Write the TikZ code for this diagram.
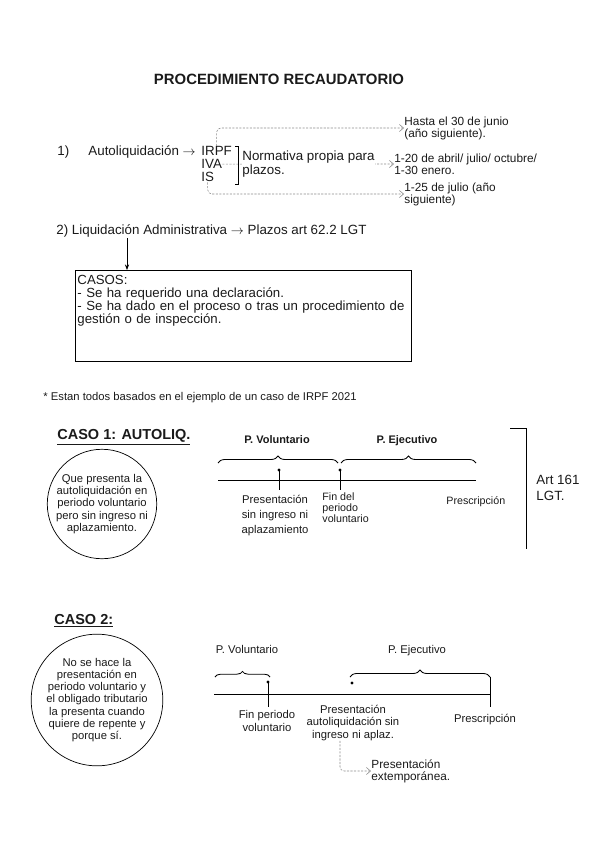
\documentclass[tikz,border=0pt]{standalone}
\usepackage{fontspec}
\setmainfont{Liberation Sans}
\usepackage{tikz}
\usetikzlibrary{positioning, arrows.meta, decorations.pathreplacing, backgrounds}
\definecolor{gristrazo}{HTML}{8A8A8A}
\definecolor{gristexto}{HTML}{1A1A1A}

\begin{document}
\begin{tikzpicture}[
    x=0.025cm, y=-0.025cm,
    line width=0.6pt,
    every node/.style={font=\fontsize{9.5}{9.2}\selectfont, inner sep=0pt, text=gristexto},
    titulo/.style={font=\fontsize{10.6}{12}\selectfont\bfseries},
    caso/.style={font=\fontsize{10.3}{12}\selectfont\bfseries},
    nota/.style={font=\fontsize{8.4}{8.6}\selectfont, align=left},
    chico/.style={font=\fontsize{8}{10.5}\selectfont},
    periodo/.style={font=\fontsize{7.8}{9}\selectfont\bfseries, anchor=base},
    burbuja/.style={draw, circle, align=center, line width=0.5pt,
        font=\fontsize{8}{8.7}\selectfont},
    llave/.style={decorate, decoration={brace, amplitude=5pt}},
    punteada/.style={color=gristrazo, dash pattern=on 1.5pt off 1pt, line width=0.4pt,
        rounded corners=3pt, -{Straight Barb[length=3pt, width=5pt]}},
    flecha/.style={-{Stealth[length=4pt, width=3pt]}, line width=0.5pt}
]
\useasboundingbox (0,0) rectangle (600,848);

% titulo
\node[titulo] (titulo) at (279,79) {PROCEDIMIENTO RECAUDATORIO};

% 1) autoliquidacion
\node[anchor=west] (uno) at (57,152) {1)};
\node[anchor=west] (auto) at (88,152) {Autoliquidación $\rightarrow$};
\node[base right=0.12cm of auto] (irpf) {IRPF};
\node[anchor=base west] (iva) at ([yshift=-0.33cm]irpf.base west) {IVA};
\node[anchor=base west] (is) at ([yshift=-0.33cm]iva.base west) {IS};
\draw[line width=0.5pt] (235,146) -- (238,146) -- (238,184) -- (235,184);
\node[anchor=north west, align=left, fill=white, inner ysep=1pt,
    font=\fontsize{9.5}{9.8}\selectfont] (normativa) at (242,149) {Normativa propia para\\plazos.};
\node[nota, anchor=west] (hasta) at (404,128) {Hasta el 30 de junio\\(año siguiente).};
\node[nota, anchor=west] (abril) at (394,164) {1-20 de abril/ julio/ octubre/\\1-30 enero.};
\node[nota, anchor=west] (julio) at (404,194) {1-25 de julio (año\\siguiente)};
\draw[punteada] (irpf.north) |- (hasta.west);
\draw[punteada] (is.south) |- (julio.west);
\begin{scope}[on background layer]
\draw[punteada, rounded corners=0pt] (iva.east) -- (abril.west);
\end{scope}

% 2) liquidacion administrativa
\node[anchor=west] (dos) at (56,231) {2) Liquidación Administrativa $\rightarrow$ Plazos art 62.2 LGT};
\node[draw, anchor=north west, align=left, text width=8.3cm, inner xsep=0.05cm,
    inner ysep=3.5pt, text depth=1.8cm, line width=0.7pt,
    font=\fontsize{9.4}{9.2}\selectfont] (casos) at (75,270)
    {CASOS:\\- Se ha requerido una declaración.\\- Se ha dado en el proceso o tras un procedimiento de\\gestión o de inspección.};
\coordinate (bajada) at (127,238);
\draw[flecha] (bajada) -- (bajada |- casos.north);

\node[font=\fontsize{8}{9}\selectfont, anchor=west] (aviso) at (43,398) {* Estan todos basados en el ejemplo de un caso de IRPF 2021};

% caso 1
\node[caso, anchor=west] (caso1) at (57,437) {\underline{CASO 1: AUTOLIQ.}};
\node[burbuja, minimum size=2.65cm] (burbuja1) at (102,504)
    {Que presenta la\\autoliquidación en\\periodo voluntario\\pero sin ingreso ni\\aplazamiento.};
\coordinate (ini1) at (218,480);
\coordinate (fin1) at (476,480);
\draw (ini1) -- (fin1);
\draw[llave] (218,463) -- (338,463);
\draw[llave] (341,463) -- (476,463);
\node[periodo] (vol1) at (277,443) {P. Voluntario};
\node[periodo] (eje1) at (407,443) {P. Ejecutivo};
\draw (279,470) -- (279,490);
\fill (279,470) circle (1.1pt);
\draw (340,470) -- (340,490);
\fill (340,470) circle (1.1pt);
\node[chico, align=center, anchor=north] (present1) at (275,495) {Presentación\\sin ingreso ni\\aplazamiento};
\node[font=\fontsize{7.6}{8}\selectfont, align=left, anchor=north west] (finvol1) at (322,492) {Fin del\\periodo\\voluntario};
\node[font=\fontsize{7.6}{9}\selectfont, anchor=west] (presc1) at (446,502) {Prescripción};
\draw (510,428) -- (526,428) -- (526,549);
\node[align=left, anchor=west, font=\fontsize{9.5}{11.4}\selectfont] (art) at (536,488) {Art 161\\LGT.};

% caso 2
\node[caso, anchor=west] (caso2) at (54,621) {\underline{CASO 2:}};
\node[burbuja, minimum size=2.8cm] (burbuja2) at (97,700)
    {No se hace la\\presentación en\\periodo voluntario y\\el obligado tributario\\la presenta cuando\\quiere de repente y\\porque sí.};
\coordinate (ini2) at (214,694);
\coordinate (fin2) at (490,694);
\draw (ini2) -- (fin2);
\draw[llave, decoration={amplitude=4pt}] (215,677) -- (270,677);
\draw[llave] (350,677) -- (490,677);
\node[font=\fontsize{8}{9}\selectfont, anchor=base] (vol2) at (247,653) {P. Voluntario};
\node[font=\fontsize{8}{9}\selectfont, anchor=base] (eje2) at (417,653) {P. Ejecutivo};
\draw (268,682) -- (268,707);
\fill (268,682) circle (1.1pt);
\fill (352,683) circle (1.1pt);
\draw (490,677) -- (490,707);
\node[chico, align=center, font=\fontsize{8}{8.8}\selectfont] (finvol2) at (267,721) {Fin periodo\\voluntario};
\node[chico, align=center, font=\fontsize{8}{8.6}\selectfont] (present2) at (353,723) {Presentación\\autoliquidación sin\\ingreso ni aplaz.};
\node[chico] (presc2) at (485,720) {Prescripción};
\node[nota, anchor=west] (extemp) at (371,771) {Presentación\\extemporánea.};
\coordinate (codo) at (340,0);
\draw[punteada] (present2.south -| codo) |- (extemp.west);
\end{tikzpicture}
\end{document}
